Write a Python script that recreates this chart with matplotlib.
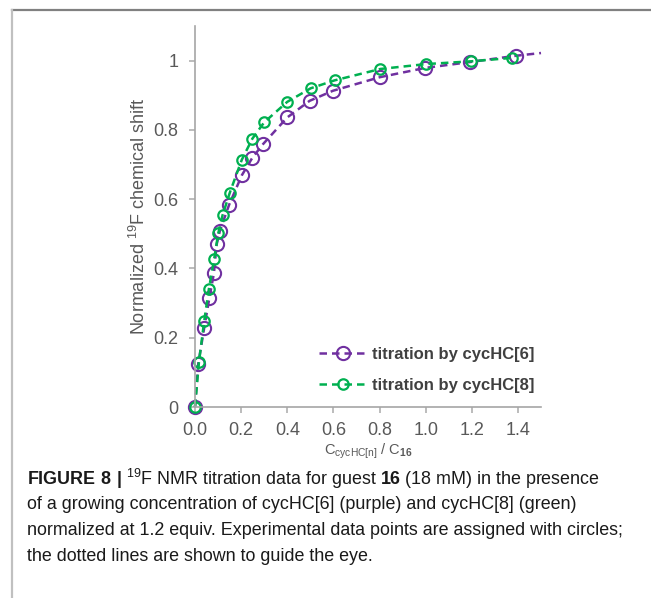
import matplotlib
matplotlib.use("Agg")
import matplotlib.pyplot as plt
from matplotlib import font_manager
from matplotlib.lines import Line2D

# titration data
x_hc6 = [0, 0.014, 0.040, 0.062, 0.082, 0.094, 0.108, 0.148, 0.203, 0.248, 0.295,
         0.40, 0.497, 0.598, 0.80, 0.998, 1.193, 1.39, 1.5]
y_hc6 = [0, 0.124, 0.229, 0.314, 0.386, 0.470, 0.509, 0.584, 0.669, 0.719, 0.759,
         0.836, 0.884, 0.913, 0.952, 0.979, 0.996, 1.014, 1.022]
x_hc8 = [0, 0.017, 0.040, 0.060, 0.083, 0.101, 0.12, 0.151, 0.203, 0.249, 0.30,
         0.40, 0.501, 0.605, 0.804, 1.001, 1.196, 1.376]
y_hc8 = [0, 0.129, 0.249, 0.340, 0.427, 0.502, 0.555, 0.619, 0.714, 0.775, 0.822,
         0.881, 0.920, 0.943, 0.976, 0.990, 0.998, 1.008]

xticks = [0.0, 0.2, 0.4, 0.6, 0.8, 1.0, 1.2, 1.4]
yticks = [0, 0.2, 0.4, 0.6, 0.8, 1.0]
ytick_labels = ['0', '0.2', '0.4', '0.6', '0.8', '1']
labels = ['titration by cycHC[6]', 'titration by cycHC[8]']

PURPLE = '#7030a0'
GREEN = '#00b050'
GRAY = '#595959'

names = set(f.name for f in font_manager.fontManager.ttflist)
narrow = 'Liberation Sans Narrow' if 'Liberation Sans Narrow' in names else 'Liberation Sans'

plt.rcParams['font.family'] = ['Liberation Sans', 'DejaVu Sans']
plt.rcParams['mathtext.fontset'] = 'custom'
plt.rcParams['mathtext.rm'] = 'Liberation Sans'
plt.rcParams['mathtext.bf'] = 'Liberation Sans:bold'

fig = plt.figure(figsize=(6.51, 5.98), dpi=100)
ax = fig.add_axes([195/651, 1-407/598, 346/651, 381/598])

ax.plot(x_hc6, y_hc6, color=PURPLE, lw=1.8, ls=(0, (3, 2)), marker='o', ms=9.5,
        mfc='none', mew=1.5, markevery=list(range(len(x_hc6)-1)), label=labels[0],
        clip_on=False)
ax.plot(x_hc8, y_hc8, color=GREEN, lw=1.8, ls=(0, (3, 2)), marker='o', ms=7.5,
        mfc='none', mew=1.6, label=labels[1], clip_on=False)

ax.set_xlim(0, 1.5)
ax.set_ylim(0, 1.1)
ax.set_xticks(xticks)
ax.set_xticklabels(['%.1f' % v for v in xticks])
ax.set_yticks(yticks)
ax.set_yticklabels(ytick_labels)
for s in ['top', 'right']:
    ax.spines[s].set_visible(False)
for s in ['left', 'bottom']:
    ax.spines[s].set_color('#a6a6a6')
    ax.spines[s].set_linewidth(1.2)
ax.tick_params(colors='#b0b0b0', labelcolor=GRAY, labelsize=13, length=4, width=1.2)
ax.tick_params(axis='x', pad=6.5)
ax.tick_params(axis='y', pad=8)

ax.set_ylabel('Normalized $^{19}$F chemical shift', color=GRAY, fontsize=13, labelpad=3)
ax.set_xlabel(r'$\mathrm{C}_{\mathrm{cycHC[n]}}$ / $\mathrm{C}_{\mathbf{16}}$',
              color=GRAY, fontsize=10.5, labelpad=2)

leg = ax.legend(loc='lower right', bbox_to_anchor=(1.025, -0.002), frameon=False,
                handlelength=2.9, labelspacing=0.93, handletextpad=0.3,
                prop={'weight': 'bold', 'size': 12})
for t in leg.get_texts():
    t.set_color('#404040')

# frame lines around the figure panel
fig.add_artist(Line2D([12/651, 1], [1-10/598, 1-10/598], color='#808080', lw=1.6))
fig.add_artist(Line2D([12/651, 12/651], [0, 1-10/598], color='#c0c0c0', lw=1.6))

plt.rcParams['mathtext.rm'] = narrow
plt.rcParams['mathtext.bf'] = narrow + ':bold'
caption = [
    r'$\mathbf{FIGURE\ 8\ |}$ $^{19}$F NMR titration data for guest $\mathbf{16}$ (18 mM) in the presence',
    'of a growing concentration of cycHC[6] (purple) and cycHC[8] (green)',
    'normalized at 1.2 equiv. Experimental data points are assigned with circles;',
    'the dotted lines are shown to guide the eye.',
]
for i, line in enumerate(caption):
    fig.text(27/651, 1-(479+i*25.8)/598, line, family=narrow, fontsize=12.9,
             color='#1a1a1a', va='center', ha='left')

fig.savefig('out.png', dpi=100)
